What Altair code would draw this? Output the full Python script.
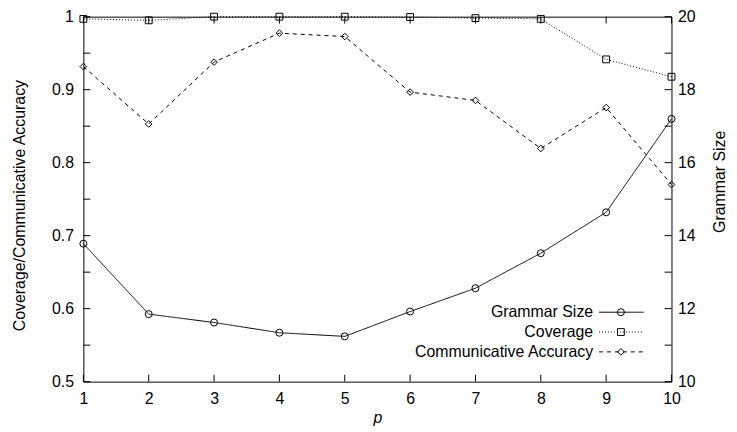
import altair as alt
import pandas as pd

# ---- data ----
p_values = [1, 2, 3, 4, 5, 6, 7, 8, 9, 10]
grammar_size = [13.78, 11.85, 11.62, 11.34, 11.24, 11.92, 12.56, 13.52, 14.64, 17.20]
coverage = [0.997, 0.995, 1.0, 1.0, 1.0, 0.9995, 0.998, 0.997, 0.9415, 0.9177]
comm_accuracy = [0.9316, 0.853, 0.9378, 0.9774, 0.9728, 0.8966, 0.8853, 0.8194, 0.8755, 0.770]
series_names = ["Grammar Size", "Coverage", "Communicative Accuracy"]
left_ticks = [0.5, 0.6, 0.7, 0.8, 0.9, 1.0]
right_ticks = [10, 11, 12, 13, 14, 15, 16, 17, 18, 19, 20]

FONT = "Liberation Sans"
FS = 16
W, H = 593, 368
TL = 7  # inward tick length in pixels
XMIN, XMAX = 1, 10
YMIN, YMAX = 10, 20
DX = TL * (XMAX - XMIN) / W   # tick length expressed in x units
DY = TL * (YMAX - YMIN) / H   # tick length expressed in right-axis units

left_df = pd.DataFrame({
    "p": p_values * 2,
    "value": coverage + comm_accuracy,
    "series": ["Coverage"] * len(p_values) + ["Communicative Accuracy"] * len(p_values),
})
right_df = pd.DataFrame({"p": p_values, "value": grammar_size,
                         "series": ["Grammar Size"] * len(p_values)})
legend_df = pd.DataFrame({"series": series_names, "idx": list(range(len(series_names)))})

# gnuplot-style inward tick segments (left, right, bottom, top)
tick_rows = []
for v in right_ticks:
    tick_rows.append({"p": XMIN, "p2": XMIN + DX, "tv": v, "tv2": v})
    tick_rows.append({"p": XMAX - DX, "p2": XMAX, "tv": v, "tv2": v})
for pv in p_values:
    tick_rows.append({"p": pv, "p2": pv, "tv": YMIN, "tv2": YMIN + DY})
    tick_rows.append({"p": pv, "p2": pv, "tv": YMAX - DY, "tv2": YMAX})
ticks_df = pd.DataFrame(tick_rows)

dash_scale = alt.Scale(domain=series_names, range=[[1, 0], [1, 2], [4, 4]])
shape_scale = alt.Scale(domain=series_names, range=["circle", "square", "diamond"])
size_scale = alt.Scale(domain=series_names, range=[50, 45, 75])

x_enc = alt.X(
    "p:Q",
    scale=alt.Scale(domain=[XMIN, XMAX], nice=False, zero=False),
    axis=alt.Axis(values=p_values, title="p", grid=False, ticks=False,
                  tickSize=0, domain=False, labelPadding=9, labelFlush=False,
                  titleFontStyle="italic", titleY=41, titleBaseline="alphabetic"),
)

y_left = alt.Y(
    "value:Q",
    scale=alt.Scale(domain=[0.5, 1.0], nice=False, zero=False),
    axis=alt.Axis(orient="left", values=left_ticks, format="~g",
                  title="Coverage/Communicative Accuracy", ticks=False, tickSize=0,
                  domain=False, grid=False, labelPadding=10, titleAngle=270,
                  titleX=-64, titleY=190, titleAlign="center", titleBaseline="middle"),
)

y_right = alt.Y(
    "value:Q",
    scale=alt.Scale(domain=[YMIN, YMAX], nice=False, zero=False),
    axis=alt.Axis(orient="right", values=right_ticks,
                  labelExpr="datum.value % 2 == 0 ? datum.label : ''",
                  title="Grammar Size", grid=False, ticks=False,
                  tickSize=0, domain=False, labelPadding=6, titleAngle=270,
                  titleX=48, titleY=166, titleAlign="center", titleBaseline="middle"),
)

dash_enc = alt.StrokeDash("series:N", scale=dash_scale, legend=None)
shape_enc = alt.Shape("series:N", scale=shape_scale, legend=None)
size_enc = alt.Size("series:N", scale=size_scale, legend=None)

left_line = alt.Chart(left_df).mark_line(color="black", strokeWidth=1).encode(
    x=x_enc, y=y_left, strokeDash=dash_enc, detail="series:N")
left_pts = alt.Chart(left_df).mark_point(filled=False, color="black", strokeWidth=1, opacity=1).encode(
    x=x_enc, y=y_left, shape=shape_enc, size=size_enc)
left_layer = alt.layer(left_line, left_pts)

right_line = alt.Chart(right_df).mark_line(color="black", strokeWidth=1).encode(
    x=x_enc, y=y_right, strokeDash=dash_enc, detail="series:N")
right_pts = alt.Chart(right_df).mark_point(filled=False, color="black", strokeWidth=1, opacity=1).encode(
    x=x_enc, y=y_right, shape=shape_enc, size=size_enc)
right_layer = alt.layer(right_line, right_pts)

# separate layer for the inward tick marks (own y scale, no extra axis)
tick_layer = alt.Chart(ticks_df).mark_rule(color="black", strokeWidth=1, opacity=1).encode(
    x=x_enc, x2=alt.X2("p2:Q"),
    y=alt.Y("tv:Q", scale=alt.Scale(domain=[YMIN, YMAX], nice=False, zero=False), axis=None),
    y2=alt.Y2("tv2:Q"))

# ---- gnuplot-style key: text right-aligned, sample to its right ----
leg_base = alt.Chart(legend_df).transform_calculate(ypix="298 + 20 * datum.idx")
leg_y = alt.Y("ypix:Q", scale=None, axis=None)
leg_text = leg_base.mark_text(align="right", baseline="middle", font=FONT,
                              fontSize=FS, color="black").encode(
    x=alt.value(514), y=leg_y, text="series:N")
leg_rule = leg_base.mark_rule(color="black", strokeWidth=1).encode(
    x=alt.value(520), x2=alt.value(565), y=leg_y, strokeDash=dash_enc)
leg_pts = leg_base.mark_point(filled=False, color="black", strokeWidth=1, opacity=1).encode(
    x=alt.value(542), y=leg_y, shape=shape_enc, size=size_enc)
legend_layer = alt.layer(leg_rule, leg_pts, leg_text)

chart = alt.layer(left_layer, right_layer, tick_layer, legend_layer).resolve_scale(
    y="independent"
).properties(
    width=W, height=H,
    padding={"left": 76, "top": 7, "right": 58, "bottom": 45},
    autosize="none",
).configure_view(
    stroke="black", strokeWidth=1
).configure_axis(
    labelFont=FONT, titleFont=FONT, labelFontSize=FS, titleFontSize=FS,
    labelColor="black", titleColor="black", titleFontWeight="normal",
).configure_text(font=FONT)

chart.save("out.html", embed_options={"renderer": "svg", "actions": False})
